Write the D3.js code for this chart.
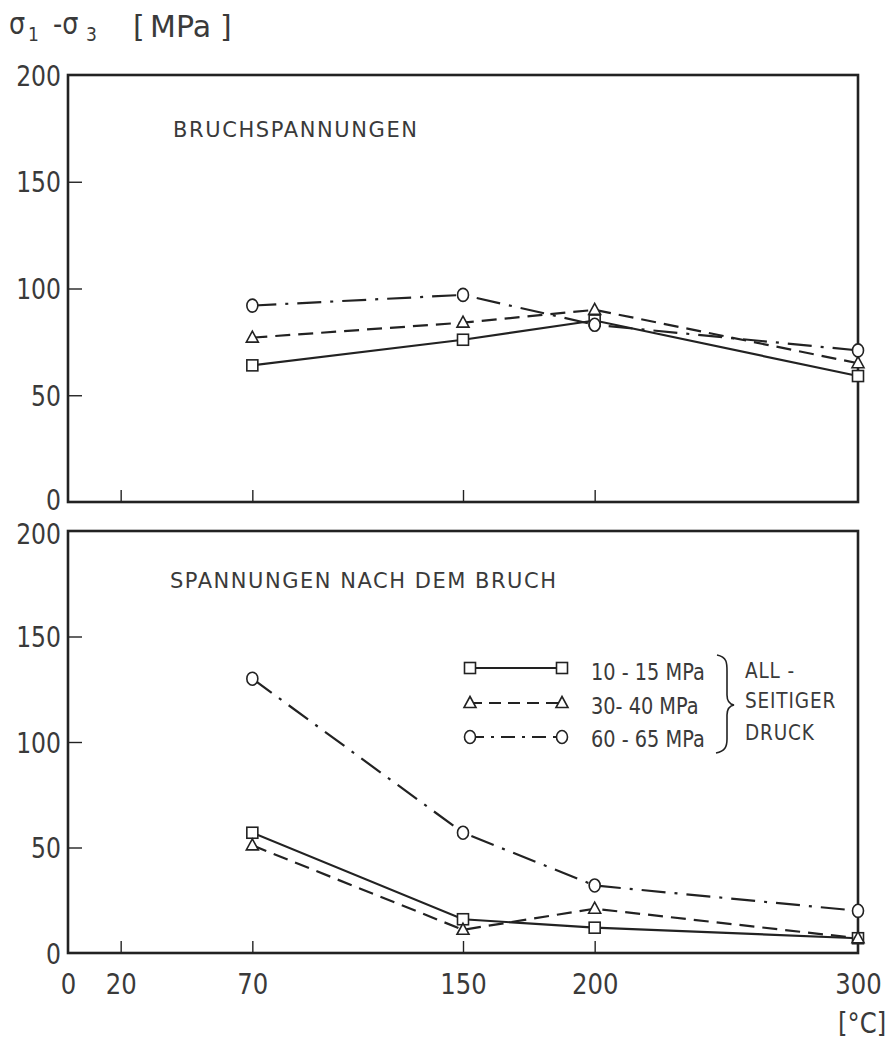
<!DOCTYPE html>
<html>
<head>
<meta charset="utf-8">
<script src="https://cdn.jsdelivr.net/npm/d3@7"></script>
<style>
  body { margin: 0; background: #fff; }
  svg text { font-family: "DejaVu Sans", sans-serif; fill: #3a3a3a; }
</style>
</head>
<body>
<svg id="chart" width="894" height="1045"></svg>
<script>
// temperatures [°C]
const temps = [70, 150, 200, 300];
const xTicks = [0, 20, 70, 150, 200, 300];
const yTicks = [0, 50, 100, 150, 200];

// sigma1 - sigma3 [MPa], top panel (Bruchspannungen)
const bruch10_15 = [64, 76, 85, 59];
const bruch30_40 = [77, 84, 90, 65];
const bruch60_65 = [92, 97, 83, 71];

// bottom panel (Spannungen nach dem Bruch)
const nach10_15 = [57, 16, 12, 7];
const nach30_40 = [51, 11, 21, 7];
const nach60_65 = [130, 57, 32, 20];

const seriesNames = ["10 - 15 MPa", "30- 40 MPa", "60 - 65 MPa"];
const sideLabels = ["ALL -", "SEITIGER", "DRUCK"];

const svg = d3.select("#chart");
const ink = "#222";
const sx = 0.84; // narrow the lettering a bit, like the drafting font

const x = d3.scaleLinear().domain([0, 300]).range([68, 858]);
const yTop = d3.scaleLinear().domain([0, 200]).range([502, 75]);
const yBot = d3.scaleLinear().domain([0, 200]).range([953, 531]);

const styles = [
  { dash: null, legDash: null, shape: "square" },
  { dash: "15,8", legDash: "12,7", shape: "triangle" },
  { dash: "24,9,3,9", legDash: "14,7,3,7", shape: "circle" }
];

function marker(g, shape, cx, cy) {
  if (shape === "square") {
    g.append("rect").attr("x", cx - 5.5).attr("y", cy - 5.5)
      .attr("width", 11).attr("height", 11)
      .attr("fill", "#fff").attr("stroke", ink).attr("stroke-width", 1.6);
  } else if (shape === "triangle") {
    g.append("path")
      .attr("d", `M${cx},${cy - 6.5}L${cx + 6},${cy + 4.5}L${cx - 6},${cy + 4.5}Z`)
      .attr("fill", "#fff").attr("stroke", ink).attr("stroke-width", 1.6);
  } else {
    g.append("ellipse").attr("cx", cx).attr("cy", cy).attr("rx", 5.5).attr("ry", 6.5)
      .attr("fill", "#fff").attr("stroke", ink).attr("stroke-width", 1.6);
  }
}

// narrow text placed at (px,py)
function ntext(g, px, py, size, txt, k = sx) {
  return g.append("text")
    .attr("transform", `translate(${px},${py}) scale(${k},1)`)
    .attr("font-size", size).text(txt);
}

function panel(y, series, title, showLabels, nudge) {
  const g = svg.append("g");

  // frame
  g.append("rect")
    .attr("x", x(0)).attr("y", y(200))
    .attr("width", x(300) - x(0)).attr("height", y(0) - y(200))
    .attr("fill", "none").attr("stroke", ink).attr("stroke-width", 2.6);

  // y axis, ticks pointing inward
  const ya = g.append("g").attr("transform", `translate(${x(0)},0)`)
    .call(d3.axisLeft(y).tickValues(yTicks).tickSize(-14).tickSizeOuter(0).tickPadding(8));
  ya.select(".domain").remove();
  ya.selectAll(".tick line").attr("stroke", ink).attr("stroke-width", 1.4)
    .filter(d => d === 0 || d === 200).remove();
  ya.selectAll(".tick text").attr("font-size", 28).attr("fill", "#3a3a3a")
    .attr("font-family", "DejaVu Sans, sans-serif")
    .attr("transform", d => `translate(0,${nudge[d] || 0}) scale(${sx},1)`)
    .attr("x", -7 / sx).attr("dy", "0.36em");

  // x axis, ticks pointing inward
  const xa = g.append("g").attr("transform", `translate(0,${y(0)})`)
    .call(d3.axisBottom(x).tickValues(xTicks).tickSize(-12).tickSizeOuter(0).tickPadding(20)
      .tickFormat(showLabels ? d3.format("d") : ""));
  xa.select(".domain").remove();
  xa.selectAll(".tick line").attr("stroke", ink).attr("stroke-width", 1.4)
    .filter(d => d === 0 || d === 300).remove();
  xa.selectAll(".tick text").attr("font-size", 29).attr("fill", "#3a3a3a")
    .attr("font-family", "DejaVu Sans, sans-serif")
    .attr("transform", `scale(${sx},1)`);

  g.append("text").attr("x", title.x).attr("y", title.y)
    .attr("font-size", 21).attr("textLength", title.len).attr("lengthAdjust", "spacing")
    .text(title.text);

  series.forEach((vals, i) => {
    const st = styles[i];
    const line = d3.line().x((d, k) => x(temps[k])).y(d => y(d));
    g.append("path").datum(vals)
      .attr("d", line)
      .attr("fill", "none").attr("stroke", ink).attr("stroke-width", 2.2)
      .attr("stroke-dasharray", st.dash);
    vals.forEach((v, k) => marker(g, st.shape, x(temps[k]), y(v)));
  });
  return g;
}

panel(yTop, [bruch10_15, bruch30_40, bruch60_65],
  { text: "BRUCHSPANNUNGEN", x: 173, y: 137, len: 244 }, false, { 0: -3 });
panel(yBot, [nach10_15, nach30_40, nach60_65],
  { text: "SPANNUNGEN NACH DEM BRUCH", x: 170, y: 588, len: 386 }, true, { 200: 2 });

// legend
const legY = [668, 703, 737];
const leg = svg.append("g");
styles.forEach((st, i) => {
  leg.append("line").attr("x1", 470).attr("x2", 562).attr("y1", legY[i]).attr("y2", legY[i])
    .attr("stroke", ink).attr("stroke-width", 1.8).attr("stroke-dasharray", st.legDash);
  marker(leg, st.shape, 470, legY[i]);
  marker(leg, st.shape, 562, legY[i]);
  ntext(leg, 591, [680, 714, 747][i], 23, seriesNames[i]);
  ntext(leg, 745, [678, 708, 740][i], 22, sideLabels[i]).attr("letter-spacing", 1);
});
// brace
leg.append("path")
  .attr("d", "M717,655 C727,657 727,663 727,671 L727,695 C727,701 729,704 734,705 C729,706 727,709 727,715 L727,739 C727,747 725,751 716,753")
  .attr("fill", "none").attr("stroke", ink).attr("stroke-width", 1.6);

// axis titles
const yt = svg.append("g");
ntext(yt, 9, 34, 30, "σ", 0.85);
ntext(yt, 28, 41, 19, "1", 0.9);
ntext(yt, 53, 34, 30, "-σ", 0.85);
ntext(yt, 86, 41, 19, "3", 0.9);
ntext(yt, 133, 37, 30, "[", 1);
ntext(yt, 150, 37, 30, "MPa", 1);
ntext(yt, 220, 37, 30, "]", 1);
ntext(svg, 838, 1033, 29, "[°C]");
</script>
</body>
</html>
